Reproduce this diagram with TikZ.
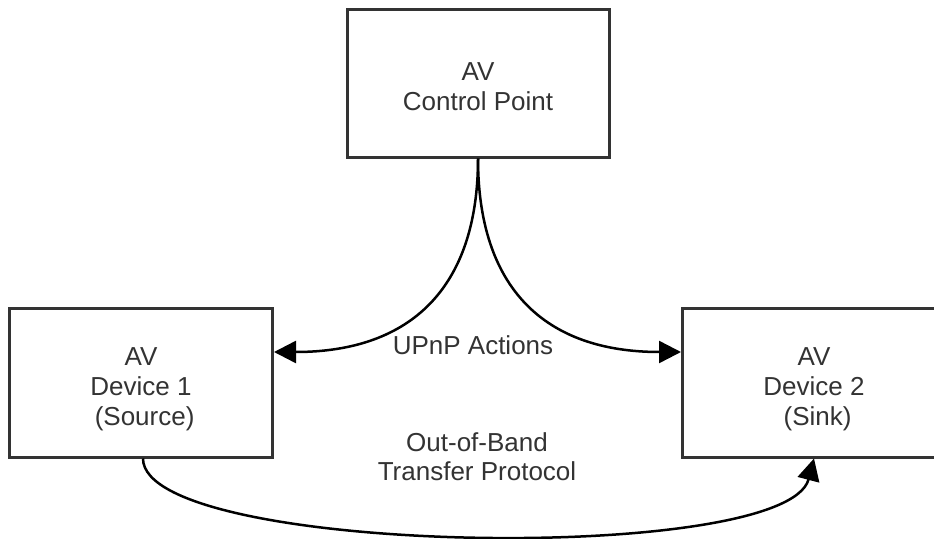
\documentclass[tikz,border=0pt]{standalone}
\usepackage{fontspec}
\setmainfont{Liberation Sans}
\usetikzlibrary{arrows.meta}
\definecolor{inkgray}{HTML}{333333}
\begin{document}
\begin{tikzpicture}[x=1pt,y=-1pt,
  labelfont/.style={font=\fontsize{26}{30}\selectfont, text=inkgray},
  box/.style={draw=inkgray, line width=3pt, fill=white, align=center,
    inner sep=0pt, labelfont},
  cpbox/.style={box, minimum width=262pt, minimum height=148pt,
    text height=54pt, text depth=0pt},
  devbox/.style={box, minimum width=263pt, minimum height=149pt,
    text height=85pt, text depth=0pt},
  conn/.style={draw=black, line width=2.5pt,
    -{Triangle[length=22pt,width=22pt]}},
  edgetext/.style={labelfont, align=center, inner sep=0pt, anchor=base}]
  % page frame; the right-hand device box runs past its edge
  \clip (0,0) rectangle (934,538);
  \fill[white] (0,0) rectangle (934,538);

  % devices
  \node[cpbox]  (cp) at (478,83)    {AV\\Control Point};
  \node[devbox] (d1) at (141,382.5) {AV\\Device 1\\\hspace*{0.278em}(Source)};
  \node[devbox] (d2) at (814,382.5) {AV\\Device 2\\\hspace*{0.278em}(Sink)};

  % UPnP control actions from the control point
  \draw[conn] (cp.south) .. controls +(0,129) and +(137,0) .. ([yshift=30.5pt]d1.east);
  \draw[conn] (cp.south) .. controls +(0,129) and +(-137,0) .. ([yshift=30.5pt]d2.west);
  \node[edgetext] (upnp) at (473,354) {UPnP Actions};

  % out-of-band media transfer from source to sink
  \draw[conn] ([xshift=2pt]d1.south) .. controls +(0,97) and +(-28,107) .. (d2.south);
  \node[edgetext, font=\fontsize{26}{29}\selectfont] (oob) at (477,480)
    {Out-of-Band\\Transfer Protocol};
\end{tikzpicture}
\end{document}
